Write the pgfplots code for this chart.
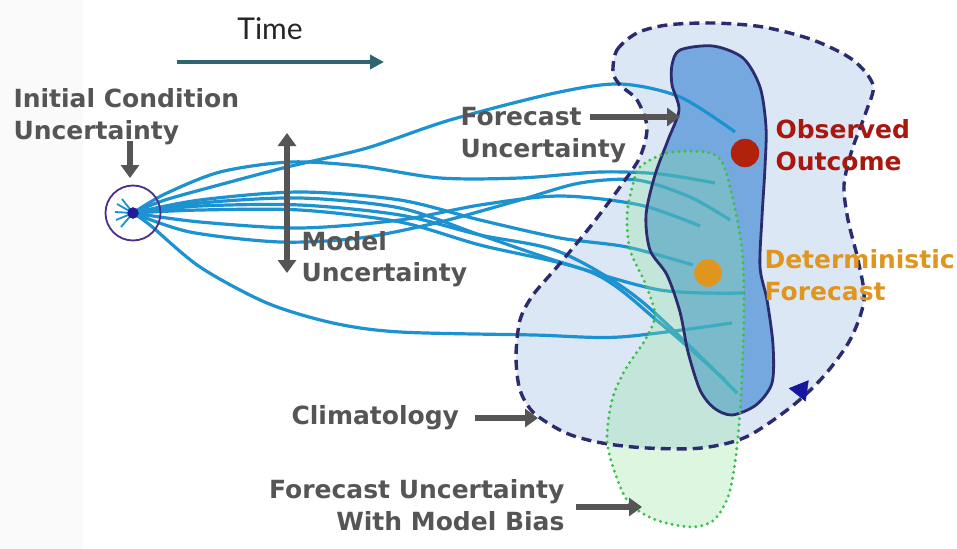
\documentclass[border=0pt]{standalone}
\usepackage{pgfplots}
\pgfplotsset{compat=1.18}
\usepackage{fontspec}
\setmainfont{DejaVu Sans}
\newfontfamily\timefont{Lato}
\usetikzlibrary{arrows.meta}

\definecolor{labgray}{HTML}{555555}
\definecolor{timeteal}{HTML}{2E6670}
\definecolor{climfill}{HTML}{DCE7F6}
\definecolor{navy}{HTML}{2C2B6E}
\definecolor{obsfill}{HTML}{74A8DF}
\definecolor{biasgreen}{HTML}{3EBE4E}
\definecolor{biasfill}{HTML}{8EE49A}
\definecolor{trajblue}{HTML}{1C93D0}
\definecolor{obsred}{HTML}{A8180F}
\definecolor{detorange}{HTML}{E0961E}
\definecolor{ringpurple}{HTML}{4E2E8C}
\definecolor{tipblue}{HTML}{1616A0}

\newcommand{\lab}{\fontsize{25bp}{29bp}\selectfont\bfseries}

\begin{document}
\begin{tikzpicture}
\begin{axis}[
  width=957bp, height=549bp, scale only axis,
  xmin=0, xmax=957, ymin=0, ymax=549, y dir=reverse,
  hide axis,
  trajline/.style={trajblue, line width=3.2bp, smooth},
  garrow/.style={labgray, line width=6bp, -{Triangle[length=13bp,width=18bp]}},
  every node/.append style={inner sep=0pt},
]
% background
\addplot[fill=white, draw=none] coordinates {(0,0) (957,0) (957,549) (0,549)} -- cycle;
\addplot[fill=gray!4, draw=none] coordinates {(0,0) (83,0) (83,549) (0,549)} -- cycle;

% climatology
\addplot[fill=climfill, draw=none, smooth cycle] coordinates {
 (613,72) (617,50) (637,33) (667,25) (713,23) (763,27) (813,40) (853,60) (873,85)
 (866,112) (852,150) (844,185) (848,220) (858,260) (864,300) (850,340) (823,377)
 (791,407) (746,437) (701,448) (647,448) (602,443) (566,433) (534,413) (520,390)
 (516,357) (520,320) (533,295) (557,267) (590,227) (620,187) (640,157) (647,127)
 (637,100) (620,85)};

% observed outcome distribution
\addplot[fill=obsfill, draw=none, smooth cycle] coordinates {
 (680,50) (713,46) (743,58) (760,87) (766,127) (765,167) (762,217) (760,267)
 (767,300) (773,345) (772,383) (756,405) (732,415) (714,408) (700,390) (688,352)
 (680,312) (667,275) (650,250) (646,215) (655,175) (668,140) (679,110) (672,85) (672,65)};

% trajectories
\addplot[trajline] coordinates {(133,213) (165,200) (230,182) (287,167) (367,148) (450,120) (555,93) (620,84) (680,97) (735,132)};
\addplot[trajline] coordinates {(133,213) (165,194) (220,172) (290,162) (360,166) (440,178) (520,178) (600,172) (660,174) (715,183)};
\addplot[trajline] coordinates {(133,213) (200,200) (300,192) (400,200) (480,220) (560,238) (627,247) (693,265)};
\addplot[trajline] coordinates {(133,213) (200,203) (300,198) (400,208) (480,235) (560,262) (660,290) (745,293)};
\addplot[trajline] coordinates {(133,213) (200,206) (300,205) (400,215) (480,235) (560,252) (640,300) (737,393)};
\addplot[trajline] coordinates {(133,213) (200,210) (300,210) (400,222) (480,245) (593,273) (660,323) (725,380)};
\addplot[trajline] coordinates {(133,213) (190,232) (280,242) (360,238) (440,222) (520,200) (580,183) (637,180) (690,197) (730,220)};
\addplot[trajline] coordinates {(133,213) (200,222) (300,228) (400,220) (480,205) (560,196) (640,205) (700,226)};
\addplot[trajline] coordinates {(133,213) (150,225) (200,267) (267,303) (333,323) (400,332) (534,335) (620,337) (732,323)};
% burst at the initial state
\addplot[trajline, line width=1.8bp] coordinates {(133,213) (122,199)};
\addplot[trajline, line width=1.8bp] coordinates {(133,213) (117,204)};
\addplot[trajline, line width=1.8bp] coordinates {(133,213) (115,212)};
\addplot[trajline, line width=1.8bp] coordinates {(133,213) (116,220)};
\addplot[trajline, line width=1.8bp] coordinates {(133,213) (121,227)};

% forecast uncertainty with model bias
\addplot[fill=biasfill, fill opacity=0.3, draw=none, smooth cycle] coordinates {
 (640,167) (667,153) (705,152) (722,162) (733,200) (742,250) (744,300) (743,350)
 (740,413) (735,463) (728,497) (714,520) (692,527) (656,520) (629,503) (615,473)
 (607,440) (612,400) (625,370) (645,340) (655,315) (645,283) (630,250) (627,215) (632,188)};

% outlines
\addplot[navy, line width=3.4bp, dash pattern=on 10bp off 6bp, smooth cycle] coordinates {
 (613,72) (617,50) (637,33) (667,25) (713,23) (763,27) (813,40) (853,60) (873,85)
 (866,112) (852,150) (844,185) (848,220) (858,260) (864,300) (850,340) (823,377)
 (791,407) (746,437) (701,448) (647,448) (602,443) (566,433) (534,413) (520,390)
 (516,357) (520,320) (533,295) (557,267) (590,227) (620,187) (640,157) (647,127)
 (637,100) (620,85)};
\addplot[navy, line width=2.8bp, smooth cycle] coordinates {
 (680,50) (713,46) (743,58) (760,87) (766,127) (765,167) (762,217) (760,267)
 (767,300) (773,345) (772,383) (756,405) (732,415) (714,408) (700,390) (688,352)
 (680,312) (667,275) (650,250) (646,215) (655,175) (668,140) (679,110) (672,85) (672,65)};
\addplot[biasgreen, line width=3.3bp, line cap=round, dash pattern=on 0bp off 6bp, smooth cycle] coordinates {
 (640,167) (667,153) (705,152) (722,162) (733,200) (742,250) (744,300) (743,350)
 (740,413) (735,463) (728,497) (714,520) (692,527) (656,520) (629,503) (615,473)
 (607,440) (612,400) (625,370) (645,340) (655,315) (645,283) (630,250) (627,215) (632,188)};

% navy arrow tip on the climatology outline
\addplot[only marks, mark=triangle*, mark size=12bp, color=tipblue,
  mark options={rotate=82}] coordinates {(801,390)};

% initial condition ring and state
\addplot[only marks, mark=o, mark size=27.5bp, color=ringpurple, mark options={line width=1.8bp}] coordinates {(133,213)};
\addplot[only marks, mark=*, mark size=5.5bp, color=navy!70!blue] coordinates {(133,213)};

% observed and deterministic points
\addplot[only marks, mark=*, mark size=14bp, color=obsred!90!orange] coordinates {(745,153)};
\addplot[only marks, mark=*, mark size=13.5bp, color=detorange] coordinates {(708,273)};

% arrows
\addplot[timeteal, line width=4.5bp, -{Triangle[length=14bp,width=14bp]}] coordinates {(177,62) (384,62)};
\addplot[garrow] coordinates {(130,141) (130,178)};
\addplot[labgray, line width=6bp, {Triangle[length=13bp,width=18bp]}-{Triangle[length=13bp,width=18bp]}] coordinates {(287,133) (287,273)};
\addplot[garrow] coordinates {(590,117) (680,117)};
\addplot[garrow] coordinates {(475,418) (538,418)};
\addplot[garrow] coordinates {(576,507) (642,507)};

% texts
\node[anchor=base, text=black!85, font=\timefont\fontsize{30bp}{34bp}\selectfont] at (axis cs:270,40) {Time};
\node[anchor=base west, text=labgray, font=\lab] at (axis cs:10,107) {Initial Condition};
\node[anchor=base west, text=labgray, font=\lab] at (axis cs:10,139) {Uncertainty};
\node[anchor=base west, text=labgray, font=\lab] at (axis cs:298,250) {Model};
\node[anchor=base west, text=labgray, font=\lab] at (axis cs:298,281) {Uncertainty};
\node[anchor=base west, text=labgray, font=\lab] at (axis cs:457,125) {Forecast};
\node[anchor=base west, text=labgray, font=\lab] at (axis cs:457,157) {Uncertainty};
\node[anchor=base west, text=obsred, font=\lab] at (axis cs:772,138) {Observed};
\node[anchor=base west, text=obsred, font=\lab] at (axis cs:772,170) {Outcome};
\node[anchor=base west, text=detorange, font=\lab] at (axis cs:761,268) {Deterministic};
\node[anchor=base west, text=detorange, font=\lab] at (axis cs:761,300) {Forecast};
\node[anchor=base west, text=labgray, font=\lab] at (axis cs:288,424) {Climatology};
\node[anchor=base east, text=labgray, font=\lab] at (axis cs:568,498) {Forecast Uncertainty};
\node[anchor=base east, text=labgray, font=\lab] at (axis cs:568,530) {With Model Bias};
\end{axis}
\end{tikzpicture}
\end{document}
